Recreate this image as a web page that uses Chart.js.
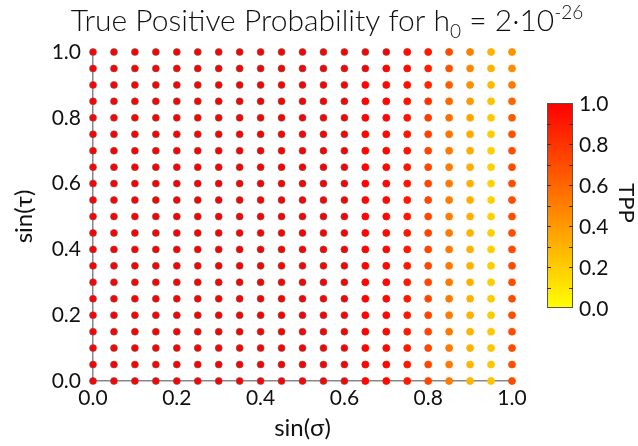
<!DOCTYPE html>
<html>
<head>
<meta charset="utf-8">
<script src="https://cdn.jsdelivr.net/npm/chart.js@4.4.0/dist/chart.umd.min.js"></script>
<style>
  html,body{margin:0;padding:0;background:#fff}
</style>
</head>
<body>
<canvas id="tppChart" width="638" height="446"></canvas>
<script>
/* DATOS */
const sinSigma = [0,0.05,0.1,0.15,0.2,0.25,0.3,0.35,0.4,0.45,0.5,0.55,0.6,0.65,0.7,0.75,0.8,0.85,0.9,0.95,1.0];
// filas de arriba (1.0) a abajo (0.0)
const sinTau = [1.0,0.95,0.9,0.85,0.8,0.75,0.7,0.65,0.6,0.55,0.5,0.45,0.4,0.35,0.3,0.25,0.2,0.15,0.1,0.05,0];
const tpp = [
  [1,1,1,1,1,1,1,1,1,1,1,1,1, 1.00,1.00,0.95,0.90,0.70,0.50,0.30,0.43],
  [1,1,1,1,1,1,1,1,1,1,1,1,1, 1.00,0.98,0.95,0.88,0.68,0.47,0.30,0.45],
  [1,1,1,1,1,1,1,1,1,1,1,1,1, 0.98,0.97,0.94,0.84,0.63,0.43,0.27,0.52],
  [1,1,1,1,1,1,1,1,1,1,1,1,1, 0.98,0.97,0.93,0.80,0.59,0.39,0.24,0.60],
  [1,1,1,1,1,1,1,1,1,1,1,1,1, 0.98,0.97,0.92,0.76,0.56,0.35,0.22,0.65],
  [1,1,1,1,1,1,1,1,1,1,1,1,1, 0.98,0.97,0.92,0.74,0.54,0.33,0.20,0.68],
  [1,1,1,1,1,1,1,1,1,1,1,1,1, 0.98,0.97,0.92,0.73,0.53,0.32,0.19,0.69],
  [1,1,1,1,1,1,1,1,1,1,1,1,1, 0.98,0.97,0.92,0.72,0.52,0.32,0.19,0.70],
  [1,1,1,1,1,1,1,1,1,1,1,1,1, 0.98,0.97,0.91,0.72,0.52,0.31,0.18,0.70],
  [1,1,1,1,1,1,1,1,1,1,1,1,1, 0.98,0.97,0.91,0.72,0.51,0.31,0.18,0.70],
  [1,1,1,1,1,1,1,1,1,1,1,1,1, 0.98,0.97,0.91,0.71,0.51,0.31,0.18,0.70],
  [1,1,1,1,1,1,1,1,1,1,1,1,1, 0.98,0.97,0.91,0.72,0.52,0.30,0.19,0.70],
  [1,1,1,1,1,1,1,1,1,1,1,1,1, 0.98,0.97,0.91,0.72,0.52,0.30,0.19,0.71],
  [1,1,1,1,1,1,1,1,1,1,1,1,1, 0.98,0.97,0.91,0.72,0.52,0.30,0.20,0.71],
  [1,1,1,1,1,1,1,1,1,1,1,1,1, 0.98,0.97,0.90,0.72,0.52,0.30,0.20,0.70],
  [1,1,1,1,1,1,1,1,1,1,1,1,1, 0.98,0.97,0.90,0.72,0.52,0.30,0.21,0.70],
  [1,1,1,1,1,1,1,1,1,1,1,1,1, 0.98,0.97,0.90,0.72,0.52,0.30,0.21,0.70],
  [1,1,1,1,1,1,1,1,1,1,1,1,1, 0.98,0.97,0.90,0.72,0.52,0.30,0.22,0.70],
  [1,1,1,1,1,1,1,1,1,1,1,1,1, 0.98,0.97,0.90,0.72,0.52,0.30,0.23,0.70],
  [1,1,1,1,1,1,1,1,1,1,1,1,1, 0.98,0.97,0.90,0.72,0.52,0.29,0.23,0.70],
  [1,1,1,1,1,1,1,1,1,1,1,1,1, 0.98,0.97,0.90,0.72,0.52,0.29,0.24,0.70]
];
const cbTicks = [0,0.2,0.4,0.6,0.8,1.0];

/* COLORES */
const FONT = "Lato, 'Open Sans', sans-serif";
function tppColor(v){
  return `rgb(255,${Math.round(255*(1-v))},0)`;
}

const points = [];
sinTau.forEach((y,j)=>{
  sinSigma.forEach((x,i)=>{
    points.push({x, y, v: tpp[j][i]});
  });
});

/* TITULO CON SUB/SUPERINDICES */
const titlePlugin = {
  id:"titleRich",
  afterDraw(chart){
    const ctx = chart.ctx;
    const parts = [
      {t:"True Positive Probability for h", size:30, dy:0},
      {t:"0", size:19, dy:7},
      {t:" = 2·10", size:30, dy:0},
      {t:"-26", size:19, dy:-12}
    ];
    ctx.save();
    ctx.fillStyle = "#111";
    ctx.textBaseline = "alphabetic";
    let total = 0;
    parts.forEach(p=>{ ctx.font = `300 ${p.size}px ${FONT}`; p.w = ctx.measureText(p.t).width; total += p.w; });
    let x = 327 - total/2;
    parts.forEach(p=>{
      ctx.font = `300 ${p.size}px ${FONT}`;
      ctx.fillText(p.t, x, 31 + p.dy);
      x += p.w;
    });
    ctx.restore();
  }
};

/* BARRA DE COLOR */
const colorbarPlugin = {
  id:"colorbar",
  afterDraw(chart){
    const ctx = chart.ctx;
    const x0 = 547, x1 = 573, top = 103, bottom = 308;
    const yOf = v => bottom - v*(bottom-top);
    ctx.save();
    const g = ctx.createLinearGradient(0, bottom, 0, top);
    g.addColorStop(0, tppColor(0));
    g.addColorStop(1, tppColor(1));
    ctx.fillStyle = g;
    ctx.fillRect(x0, top, x1-x0, bottom-top);
    ctx.strokeStyle = "#555";
    ctx.lineWidth = 1;
    ctx.strokeRect(x0+0.5, top+0.5, x1-x0-1, bottom-top-1);
    ctx.strokeStyle = "#333";
    for (let k=1;k<10;k++){
      const y = Math.round(yOf(k/10))+0.5;
      ctx.beginPath();
      ctx.moveTo(x0, y); ctx.lineTo(x0+4, y);
      ctx.moveTo(x1-4, y); ctx.lineTo(x1, y);
      ctx.stroke();
    }
    ctx.fillStyle = "#111";
    ctx.font = `21px ${FONT}`;
    ctx.textAlign = "left";
    ctx.textBaseline = "middle";
    cbTicks.forEach(v=> ctx.fillText(v.toFixed(1), 579, yOf(v)+1));
    ctx.translate(626, 203);
    ctx.rotate(Math.PI/2);
    ctx.textAlign = "center";
    ctx.font = `22px ${FONT}`;
    ctx.fillText("TPP", 0, 0);
    ctx.restore();
  }
};

/* GRAFICA */
new Chart(document.getElementById("tppChart"),{
  type:"scatter",
  data:{
    datasets:[{
      label:"TPP",
      data:points,
      pointRadius:3.5,
      pointHoverRadius:3.5,
      borderWidth:0.8,
      backgroundColor: c => tppColor(c.raw ? c.raw.v : 1),
      borderColor: c => (c.raw && c.raw.v >= 1) ? "rgba(110,90,90,0.75)" : tppColor(c.raw ? c.raw.v : 1),
      clip:false
    }]
  },
  options:{
    responsive:false,
    animation:false,
    layout:{padding:{top:52,right:126,left:0,bottom:0}},
    plugins:{legend:{display:false},tooltip:{enabled:false}},
    scales:{
      x:{
        type:"linear",min:0,max:1,
        afterFit: s => { s.height = 65; },
        grid:{display:false,drawTicks:false},
        border:{display:true,color:"#888",width:1.5},
        ticks:{stepSize:0.2,padding:5,color:"#111",font:{size:21,family:FONT},callback:v=>v.toFixed(1)},
        title:{display:true,text:"sin(σ)",color:"#111",font:{size:24,family:FONT},padding:{bottom:3}}
      },
      y:{
        type:"linear",min:0,max:1,
        afterFit: s => { s.width = 93; },
        grid:{display:false,drawTicks:false},
        border:{display:true,color:"#888",width:1.5},
        ticks:{stepSize:0.2,padding:12,color:"#111",font:{size:21,family:FONT},callback:v=>v.toFixed(1)},
        title:{display:true,text:"sin(τ)",color:"#111",font:{size:24,family:FONT},padding:{top:10}}
      }
    }
  },
  plugins:[titlePlugin,colorbarPlugin]
});
</script>
</body>
</html>
